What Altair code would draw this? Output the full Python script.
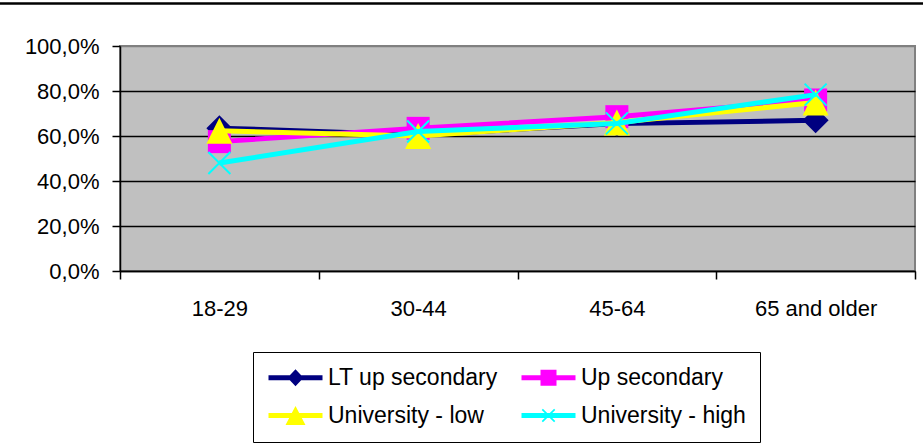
import altair as alt
import pandas as pd

categories = ["18-29", "30-44", "45-64", "65 and older"]
series_names = ["LT up secondary", "Up secondary", "University - low", "University - high"]
lt_up_secondary = [0.635, 0.605, 0.655, 0.67]
up_secondary = [0.575, 0.634, 0.686, 0.76]
university_low = [0.623, 0.600, 0.660, 0.749]
university_high = [0.480, 0.620, 0.656, 0.784]
y_ticks = [0, 0.2, 0.4, 0.6, 0.8, 1.0]

series_values = [lt_up_secondary, up_secondary, university_low, university_high]
colors = ["#000080", "#FF00FF", "#FFFF00", "#00FFFF"]

rows = []
for name, vals in zip(series_names, series_values):
    for cat, v in zip(categories, vals):
        rows.append({"age": cat, "series": name, "value": v})
df = pd.DataFrame(rows)

FONT = "Liberation Sans"

x_enc = alt.X(
    "age:N",
    sort=categories,
    scale=alt.Scale(type="band", domain=categories, paddingInner=0, paddingOuter=0),
    axis=alt.Axis(title=None, tickBand="extent", labelAngle=0, grid=False,
                  tickSize=8, labelPadding=19, labelFontSize=22),
)
y_enc = alt.Y(
    "value:Q",
    scale=alt.Scale(domain=[0, 1]),
    axis=alt.Axis(title=None, values=y_ticks, tickSize=8, labelPadding=13,
                  labelFontSize=22, grid=True,
                  labelExpr="replace(format(datum.value, '.1%'), '.', ',')",
                  gridColor={"condition": {"test": "datum.value >= 1", "value": "#808080"},
                             "value": "#000000"}),
)

# chart marker definitions
marker_specs = [
    dict(shape="diamond", size=676, filled=True),
    dict(shape="square", size=529, filled=True),
    dict(shape="M0,-1L1,1L-1,1Z", size=676, filled=True),
    dict(shape="M-1,-1L1,1M1,-1L-1,1", size=484, filled=False),
]

layers = []
for name, col, ms in zip(series_names, colors, marker_specs):
    base = alt.Chart(df).transform_filter(alt.datum.series == name)
    line = base.mark_line(color=col, strokeWidth=5).encode(x=x_enc, y=y_enc)
    if ms["filled"]:
        pts = base.mark_point(shape=ms["shape"], size=ms["size"], filled=True,
                              color=col, opacity=1, strokeWidth=0).encode(x=x_enc, y=y_enc)
    else:
        pts = base.mark_point(shape=ms["shape"], size=ms["size"], filled=False,
                              color=col, opacity=1, strokeWidth=2).encode(x=x_enc, y=y_enc)
    layers += [line, pts]

# legend symbols: line + marker as custom paths
line_path = "M-2.7,-0.25H2.7V0.25H-2.7Z"
legend_paths = [
    line_path + "M0,-0.85L0.8,0L0,0.85L-0.8,0Z",
    line_path + "M-0.8,-0.8H0.8V0.8H-0.8Z",
    line_path + "M0,-0.95L1,0.95H-1Z",
    line_path + "M-0.68,-0.56L-0.56,-0.68L0.68,0.56L0.56,0.68Z"
              + "M0.68,-0.56L-0.56,0.68L-0.68,0.56L0.56,-0.68Z",
]

legend_layer = alt.Chart(df).transform_filter("false").mark_point(
    filled=True, size=400, opacity=1
).encode(
    color=alt.Color("series:N", scale=alt.Scale(domain=series_names, range=colors),
                    legend=alt.Legend(title=None, orient="none", legendX=133, legendY=306,
                                      columns=2, direction="horizontal",
                                      symbolSize=400, symbolOffset=17,
                                      labelOffset=21, labelFontSize=23, labelFont=FONT,
                                      labelColor="black", strokeColor="black",
                                      fillColor="white", padding=14, rowPadding=14,
                                      columnPadding=22, symbolStrokeWidth=0,
                                      gridAlign="all", labelLimit=400, symbolOpacity=1)),
    shape=alt.Shape("series:N", scale=alt.Scale(domain=series_names, range=legend_paths)),
)

top_line = alt.Chart(pd.DataFrame({"a": [0]})).mark_rule(color="black", strokeWidth=2.5).encode(
    x=alt.value(-120), x2=alt.value(803), y=alt.value(-42.5)
)

chart = alt.layer(*layers, legend_layer, top_line).properties(
    width=795, height=225,
    autosize=alt.AutoSizeParams(type="none"),
    padding={"left": 120, "top": 46, "right": 8, "bottom": 172},
    background="white",
    view=alt.ViewBackground(fill="#C0C0C0", stroke="#808080", strokeWidth=2),
).configure_axis(
    labelFont=FONT, labelColor="black", domainColor="black", tickColor="black",
    domainWidth=1.5, tickWidth=1.5, gridWidth=1.3,
)

chart.save("out.html", embed_options={"renderer": "svg", "actions": False})
